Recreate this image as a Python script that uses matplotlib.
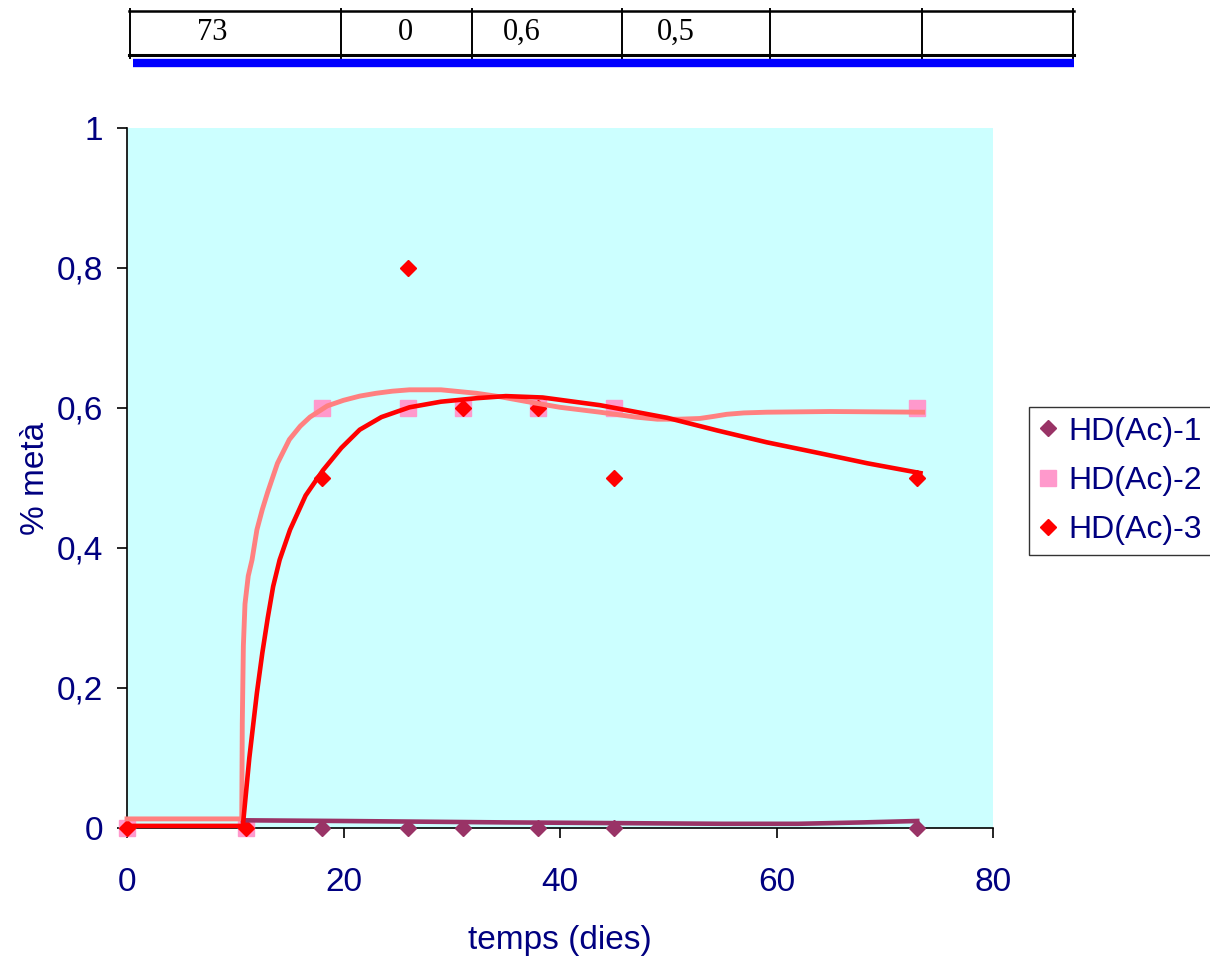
import matplotlib.pyplot as plt
from matplotlib.lines import Line2D
from matplotlib.ticker import FuncFormatter

plt.rcParams['font.family'] = ['Liberation Sans', 'DejaVu Sans']

# dades
dies = [0, 11, 18, 26, 31, 38, 45, 73]
hd1 = [0, 0, 0, 0, 0, 0, 0, 0]
hd2 = [0, 0, 0.6, 0.6, 0.6, 0.6, 0.6, 0.6]
hd3 = [0, 0, 0.5, 0.8, 0.6, 0.6, 0.5, 0.5]

# línies de tendència (llegides del gràfic)
tend1_x = [10.7, 20, 35, 45, 55, 62, 68, 73]
tend1_y = [0.011, 0.010, 0.008, 0.007, 0.006, 0.006, 0.008, 0.010]

tend2_x = [0, 10.6, 10.65, 10.75, 10.9, 11.2, 11.55, 12.0, 12.5, 13.0, 13.9, 15.0, 16.0, 16.9,
           18.5, 20.0, 21.5, 23, 24.5, 26.1, 29, 32.3, 34.5, 37, 40, 43.7, 47, 49, 51, 52.9,
           54.2, 55.4, 57, 59.1, 65, 73.5]
tend2_y = [0.013, 0.013, 0.15, 0.26, 0.32, 0.36, 0.383, 0.426, 0.455, 0.48, 0.521, 0.555, 0.574, 0.587,
           0.603, 0.611, 0.617, 0.621, 0.624, 0.626, 0.626, 0.621, 0.616, 0.609, 0.601, 0.594, 0.587,
           0.584, 0.584, 0.585, 0.588, 0.591, 0.593, 0.594, 0.595, 0.594]

tend3_x = [0, 10.7, 11.3, 12.0, 12.5, 13.0, 13.5, 14.1, 15.06, 16.5, 18.1, 19.8, 21.5, 23.5, 26.1,
           29, 32.3, 35, 38.4, 43.7, 49.9, 54.5, 59.1, 63.8, 68.4, 73.3]
tend3_y = [0.003, 0.003, 0.1, 0.193, 0.25, 0.3, 0.345, 0.383, 0.426, 0.475, 0.511, 0.543, 0.569,
           0.587, 0.601, 0.609, 0.614, 0.617, 0.615, 0.604, 0.586, 0.568, 0.551, 0.536, 0.521, 0.507]

taula = ['73', '0', '0,6', '0,5', '', '']

W, H = 1210, 963
navy = '#000080'

fig = plt.figure(figsize=(W / 100, H / 100), dpi=100)


def fx(x):
    return x / W


def fy(y):
    return 1 - y / H


# fragment de taula a dalt
vlines = [130, 341, 472, 622, 770, 922, 1073]
fig.add_artist(Line2D([fx(129), fx(1074)], [fy(11), fy(11)], color='black', lw=1.8))
fig.add_artist(Line2D([fx(129), fx(1074)], [fy(55.5), fy(55.5)], color='black', lw=2.2))
for v in vlines:
    fig.add_artist(Line2D([fx(v), fx(v)], [fy(9), fy(58)], color='black', lw=1.4))
fig.add_artist(Line2D([fx(133), fx(1074)], [fy(63), fy(63)], color='#0000FF', lw=6, solid_capstyle='butt'))
text_x = [212, 405, 522, 676]
for t, x in zip(taula, text_x):
    fig.text(fx(x), fy(40), t, ha='center', va='baseline', fontsize=22,
             family='Liberation Serif')

ax = fig.add_axes([fx(127), fy(828), fx(993) - fx(127), fy(128) - fy(828)])
ax.set_facecolor('#CCFFFF')

ax.plot(dies, hd1, 'D', color='#993366', ms=8, mec='#993366', clip_on=False, zorder=3, label='HD(Ac)-1')
ax.plot(dies, hd2, 's', color='#FF99CC', ms=11, mec='#FF99CC', clip_on=False, zorder=3, label='HD(Ac)-2')
ax.plot(dies, hd3, 'D', color='#FF0000', ms=8, mec='#FF0000', clip_on=False, zorder=3, label='HD(Ac)-3')

ax.plot(tend1_x, tend1_y, '-', color='#993366', lw=3.3, zorder=4, clip_on=False)
ax.plot(tend2_x, tend2_y, '-', color='#FF8080', lw=3.5, zorder=4, clip_on=False)
ax.plot(tend3_x, tend3_y, '-', color='#FF0000', lw=3.3, zorder=5, clip_on=False)

ax.set_xlim(0, 80)
ax.set_ylim(0, 1)
ax.set_xticks([0, 20, 40, 60, 80])
ax.set_yticks([0, 0.2, 0.4, 0.6, 0.8, 1])
ax.yaxis.set_major_formatter(FuncFormatter(lambda v, p: ('%g' % v).replace('.', ',')))

for s in ['top', 'right']:
    ax.spines[s].set_visible(False)
for s in ['left', 'bottom']:
    ax.spines[s].set_linewidth(1.2)

ax.tick_params(axis='both', direction='out', length=7, width=1.2, labelsize=24, labelcolor=navy)
ax.tick_params(axis='x', pad=21)
ax.tick_params(axis='y', pad=10)

ax.set_xlabel('temps (dies)', fontsize=24, color=navy)
ax.xaxis.set_label_coords(0.5, -0.138)
ax.set_ylabel('% metà', fontsize=24, color=navy)
ax.yaxis.set_label_coords(-0.088, 0.50)

leg = ax.legend(loc='upper left', bbox_to_anchor=(fx(1029), fy(407)), bbox_transform=fig.transFigure,
                fontsize=23, frameon=True, fancybox=False, borderaxespad=0, handlelength=0.6,
                handletextpad=0.33, borderpad=0.3, labelspacing=0.6, edgecolor='black')
leg.get_frame().set_linewidth(1)
for t in leg.get_texts():
    t.set_color(navy)

fig.savefig('out.png', dpi=100)
